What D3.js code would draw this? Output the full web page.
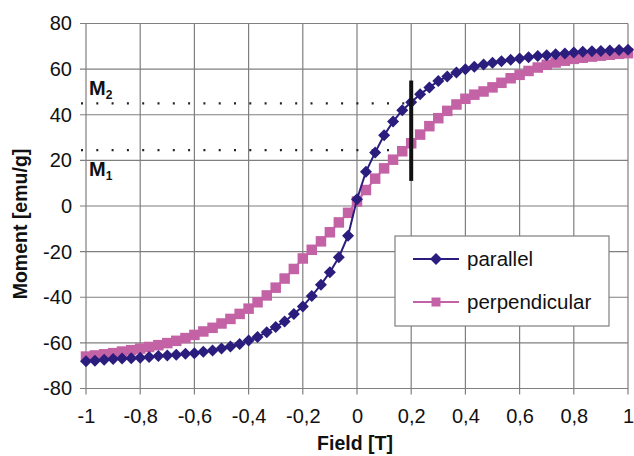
<!DOCTYPE html>
<html><head><meta charset="utf-8">
<script src="https://cdn.jsdelivr.net/npm/d3@7"></script>
<style>
html,body{margin:0;padding:0;background:#fff;}
svg{display:block;font-family:"Liberation Sans",Arial,sans-serif;}
</style></head>
<body>
<svg id="chart" width="634" height="456"></svg>
<script>
// ---- data ----
const field = [-1.000,-0.967,-0.933,-0.900,-0.867,-0.833,-0.800,-0.767,-0.733,-0.700,-0.667,-0.633,-0.600,-0.567,-0.533,-0.500,-0.467,-0.433,-0.400,-0.367,-0.333,-0.300,-0.267,-0.233,-0.200,-0.167,-0.133,-0.100,-0.067,-0.033,0.000,0.033,0.067,0.100,0.133,0.167,0.200,0.233,0.267,0.300,0.333,0.367,0.400,0.433,0.467,0.500,0.533,0.567,0.600,0.633,0.667,0.700,0.733,0.767,0.800,0.833,0.867,0.900,0.933,0.967,1.000];
const parallel = [-68,-67.8,-67.4,-67.1,-66.9,-66.7,-66.5,-66.2,-65.8,-65.5,-65.2,-64.8,-64.5,-63.9,-63.3,-62.5,-61.6,-60.5,-59,-57.4,-55.3,-53,-50.6,-47.3,-44,-39.5,-34.5,-29,-22.5,-13,3,15,23.5,31,37,42,45.5,49,52,54.8,56.8,58.5,60,61,62,62.8,63.5,64.1,64.7,65.2,65.7,66.1,66.5,66.9,67.3,67.6,67.8,68,68.2,68.4,68.5];
const perpendicular = [-66,-65.5,-65,-64.5,-63.8,-63.2,-62.5,-61.8,-61,-60.1,-59.1,-57.9,-56.5,-55,-53.4,-51.5,-49.5,-47.3,-45,-42.2,-39.2,-35.8,-31.8,-27.6,-23,-19.2,-15.5,-11.5,-7.2,-3,2,7,12,16.5,20.3,24,27.5,31.3,35,38.5,41.7,44.5,47,48.8,50.2,52,54,56,57.5,59.2,60.7,61.9,62.9,63.7,64.5,65,65.5,65.9,66.3,66.7,67];
const seriesNames = ["parallel","perpendicular"];
const xTicks = [-1,-0.8,-0.6,-0.4,-0.2,0,0.2,0.4,0.6,0.8,1];
const yTicks = [-80,-60,-40,-20,0,20,40,60,80];
const markLevels = [{name:"M",sub:"2",value:45},{name:"M",sub:"1",value:24.5}];
const markField = 0.2;
const markBar = [11,55];

// ---- layout ----
const svg = d3.select("#chart");
const L = 86, R = 628, T = 23.5, B = 388.5;
const x = d3.scaleLinear().domain([-1,1]).range([L,R]);
const y = d3.scaleLinear().domain([-80,80]).range([B,T]);
const fmt = d => String(d).replace(".", ",");
const navy = "#2b1d7d", pink = "#c462a6", grid = "#7f7f7f";

// grid
svg.append("g").selectAll("line").data(xTicks).join("line")
  .attr("x1", d=>x(d)).attr("x2", d=>x(d)).attr("y1", T).attr("y2", B+6)
  .attr("stroke", grid).attr("stroke-width", 1.2);
svg.append("g").selectAll("line").data(yTicks).join("line")
  .attr("x1", L-6).attr("x2", R).attr("y1", d=>y(d)).attr("y2", d=>y(d))
  .attr("stroke", grid).attr("stroke-width", 1.2);

// axes with d3 (labels only, lines hidden)
const yAxis = svg.append("g").attr("transform",`translate(${L},0)`)
  .call(d3.axisLeft(y).tickValues(yTicks).tickSize(0).tickPadding(14).tickFormat(fmt));
const xAxis = svg.append("g").attr("transform",`translate(0,${B})`)
  .call(d3.axisBottom(x).tickValues(xTicks).tickSize(0).tickPadding(20).tickFormat(fmt));
[yAxis,xAxis].forEach(a=>{
  a.select(".domain").remove();
  a.selectAll("text").attr("font-size",20).attr("fill","#111").attr("font-family","Liberation Sans, Arial, sans-serif");
});

// axis titles
svg.append("text").attr("x", 355).attr("y", 450).attr("text-anchor","middle")
  .attr("font-size",19.5).attr("font-weight","bold").attr("fill","#111").text("Field [T]");
svg.append("text").attr("transform","translate(27,224) rotate(-90)").attr("text-anchor","middle")
  .attr("font-size",19.5).attr("font-weight","bold").attr("fill","#111").text("Moment [emu/g]");

// dotted reference lines
svg.append("g").selectAll("line").data(markLevels).join("line")
  .attr("x1", L-5).attr("x2", x(markField)).attr("y1", d=>y(d.value)).attr("y2", d=>y(d.value))
  .attr("stroke","#222").attr("stroke-width",2.2).attr("stroke-dasharray","2,13.3");

// series
const line = d3.line().x(d=>x(d[0])).y(d=>y(d[1]));
const pData = field.map((f,i)=>[f,perpendicular[i]]);
const nData = field.map((f,i)=>[f,parallel[i]]);
const sq = 10.5, dm = 6;
function square(g, cx, cy, s){ g.append("rect").attr("x",cx-s/2).attr("y",cy-s/2).attr("width",s).attr("height",s).attr("fill",pink); }
function diamond(g, cx, cy, h){ g.append("path").attr("d",`M${cx},${cy-h}L${cx+h},${cy}L${cx},${cy+h}L${cx-h},${cy}Z`).attr("fill",navy); }

const gp = svg.append("g");
gp.append("path").datum(pData).attr("d",line).attr("fill","none").attr("stroke",pink).attr("stroke-width",2);
gp.selectAll("rect").data(pData).join("rect")
  .attr("x",d=>x(d[0])-sq/2).attr("y",d=>y(d[1])-sq/2).attr("width",sq).attr("height",sq).attr("fill",pink);

const gn = svg.append("g");
gn.append("path").datum(nData).attr("d",line).attr("fill","none").attr("stroke",navy).attr("stroke-width",2);
gn.selectAll("path.m").data(nData).join("path").attr("class","m")
  .attr("d",d=>{const cx=x(d[0]), cy=y(d[1]); return `M${cx},${cy-dm}L${cx+dm},${cy}L${cx},${cy+dm}L${cx-dm},${cy}Z`;})
  .attr("fill",navy);

// vertical bar
svg.append("line").attr("x1",x(markField)).attr("x2",x(markField))
  .attr("y1",y(markBar[0])).attr("y2",y(markBar[1])).attr("stroke","#111").attr("stroke-width",4);

// M labels
const ml = svg.append("g").selectAll("text").data(markLevels).join("text")
  .attr("x", 89).attr("y", d=> d.sub==="2" ? 95 : 176)
  .attr("font-size",20).attr("font-weight","bold").attr("fill","#111");
ml.append("tspan").text(d=>d.name);
ml.append("tspan").attr("font-size",12).attr("dy",4).text(d=>d.sub);

// legend
const lg = svg.append("g");
lg.append("rect").attr("x",395).attr("y",236).attr("width",214).attr("height",90)
  .attr("fill","#fff").attr("stroke",grid).attr("stroke-width",1.2);
const ly = [259, 302];
seriesNames.forEach((n,i)=>{
  const col = i===0 ? navy : pink;
  lg.append("line").attr("x1",413).attr("x2",459).attr("y1",ly[i]).attr("y2",ly[i]).attr("stroke",col).attr("stroke-width",2);
  if(i===0) diamond(lg,436,ly[i],6); else square(lg,436,ly[i],9);
  lg.append("text").attr("x",467).attr("y",ly[i]+7).attr("font-size",20.5).attr("fill","#111").text(n);
});
</script>
</body></html>
